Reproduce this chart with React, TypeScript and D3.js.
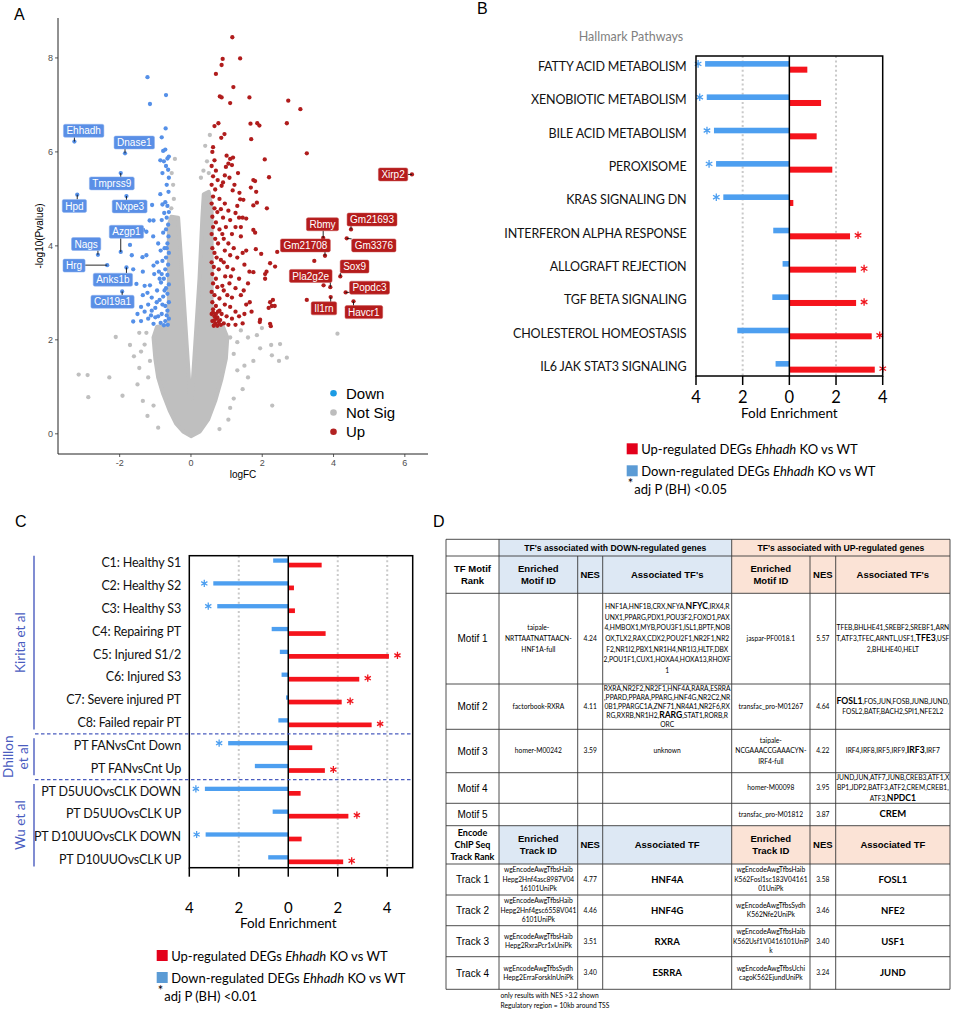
import React from 'react';
import * as d3 from 'd3';

const FA = "'Liberation Sans', Arial, Helvetica, sans-serif";
const FL = "Lato, 'Open Sans', sans-serif";

// ================= Panel A data =================
const volcanoXTicks = [-2, 0, 2, 4, 6];
const volcanoYTicks = [0, 2, 4, 6, 8];

const downPoints: [number, number][] = [
  [-1.22, 7.59], [-0.70, 7.21], [-1.15, 7.02], [-0.71, 6.50], [-0.82, 6.31], [-0.78, 6.02], [-0.72, 6.05],
  [-0.86, 5.82], [-0.76, 5.80], [-0.66, 5.86], [-0.62, 5.90], [-0.70, 5.70], [-0.64, 5.62], [-0.62, 5.45],
  [-0.68, 5.30], [-0.63, 5.15], [-0.72, 4.93], [-0.80, 4.88], [-0.66, 4.85], [-0.62, 4.72], [-0.75, 4.70],
  [-0.68, 4.60], [-0.82, 4.55], [-0.64, 4.45], [-0.70, 4.35], [-0.78, 4.28], [-0.63, 4.20], [-0.66, 4.05],
  [-0.74, 3.95], [-0.85, 3.90], [-0.62, 3.85], [-0.70, 3.75], [-0.80, 3.68], [-0.64, 3.60], [-0.72, 3.50],
  [-0.90, 3.45], [-0.66, 3.38], [-0.76, 3.30], [-0.84, 3.22], [-0.62, 3.18], [-0.70, 3.10], [-0.95, 3.05],
  [-0.66, 2.98], [-0.78, 2.92], [-0.88, 2.85], [-0.62, 2.80], [-0.72, 2.72], [-1.00, 2.68], [-0.66, 2.62],
  [-0.82, 2.55], [-0.92, 2.50], [-0.62, 2.45], [-0.72, 2.40], [-0.85, 2.36], [-1.05, 2.34], [-0.65, 2.32],
  [-0.76, 2.31], [-1.09, 4.87], [-1.16, 4.54], [-1.05, 4.54], [-1.34, 4.34], [-1.25, 4.30], [-1.06, 4.20],
  [-1.71, 4.02], [-1.66, 3.80], [-1.36, 3.76], [-1.25, 3.80], [-1.62, 3.50], [-1.35, 3.45], [-1.05, 3.58],
  [-1.03, 3.40], [-1.53, 3.19], [-1.30, 3.15], [-1.15, 3.16], [-1.22, 3.00], [-1.35, 2.95], [-1.10, 2.90],
  [-1.20, 2.75], [-1.40, 2.70], [-1.50, 2.55], [-1.30, 2.60], [-1.10, 2.62], [-1.62, 2.39], [-1.40, 2.40],
  [-1.20, 2.45], [-1.00, 2.48], [-0.95, 3.65], [-0.92, 4.05], [-0.88, 3.30], [-0.96, 2.80], [-1.12, 2.52],
  [-0.86, 5.10], [-0.80, 5.55], [-0.68, 2.52], [-0.80, 2.75], [-0.74, 3.05], [-0.82, 3.40], [-0.68, 3.95],
];

const upPoints: [number, number][] = [
  [1.16, 8.44], [1.38, 7.99], [0.89, 7.98], [0.86, 7.85], [0.70, 7.66], [1.19, 7.38], [0.81, 7.18],
  [1.64, 7.16], [1.10, 7.04], [2.73, 7.09], [3.07, 6.91], [0.86, 7.16], [1.67, 6.60], [1.86, 6.61],
  [1.92, 6.56], [2.69, 6.61], [0.77, 6.61], [0.94, 6.38], [1.69, 6.27], [0.66, 6.55], [0.85, 6.30],
  [3.25, 5.97], [2.07, 5.84], [1.00, 5.92], [1.10, 5.85], [1.18, 5.88], [1.05, 5.75], [0.98, 5.68],
  [1.15, 5.72], [2.19, 5.46], [1.75, 5.40], [1.80, 5.38], [0.95, 5.50], [1.08, 5.45], [0.90, 5.35],
  [0.86, 5.28], [1.17, 5.18], [1.36, 5.13], [1.38, 4.99], [1.47, 4.98], [1.68, 5.24], [1.83, 5.15],
  [1.75, 4.86], [1.85, 4.92], [2.13, 4.80], [1.25, 4.70], [1.35, 4.60], [1.45, 4.60], [1.55, 4.58],
  [1.25, 4.40], [1.40, 4.40], [1.75, 4.34], [1.80, 4.28], [1.82, 3.93], [1.97, 3.83], [2.42, 3.87],
  [2.22, 3.63], [2.36, 3.56], [2.08, 3.40], [2.12, 3.45], [2.08, 3.30], [1.64, 3.45], [1.75, 3.44],
  [3.46, 3.68], [3.25, 2.85], [2.22, 2.80], [2.30, 2.85], [2.27, 2.72], [2.35, 2.72], [2.18, 2.68],
  [1.94, 2.43], [1.93, 2.38], [2.22, 2.34], [2.24, 2.29], [1.70, 2.60], [3.72, 3.16],
  [0.62, 6.10], [0.60, 6.00], [0.66, 5.82], [0.58, 5.70], [0.70, 5.60], [0.62, 5.48], [0.75, 5.40],
  [0.58, 5.30], [0.68, 5.20], [0.62, 5.05], [0.80, 5.00], [0.58, 4.90], [0.66, 4.80], [0.74, 4.72],
  [0.60, 4.62], [0.70, 4.50], [0.62, 4.40], [0.80, 4.35], [0.58, 4.25], [0.68, 4.15], [0.76, 4.05],
  [0.60, 3.95], [0.66, 3.85], [0.72, 3.75], [0.58, 3.65], [0.64, 3.55], [0.78, 3.50], [0.60, 3.40],
  [0.70, 3.30], [0.62, 3.20], [0.74, 3.12], [0.58, 3.02], [0.66, 2.95], [0.80, 2.88], [0.60, 2.80],
  [0.70, 2.72], [0.62, 2.65], [0.76, 2.60], [0.58, 2.55], [0.66, 2.50], [0.72, 2.45], [0.60, 2.40],
  [0.68, 2.35], [0.78, 2.38], [0.64, 2.30], [0.74, 2.30], [0.82, 2.42], [0.86, 2.55], [0.84, 2.32],
  [0.95, 4.90], [1.05, 4.75], [0.90, 4.60], [1.10, 4.55], [0.98, 4.40], [1.15, 4.25], [0.92, 4.15],
  [1.05, 4.05], [1.20, 3.95], [0.95, 3.90], [1.10, 3.80], [1.30, 3.75], [0.92, 3.65], [1.02, 3.55],
  [1.18, 3.50], [1.35, 3.30], [0.96, 3.35], [1.08, 3.20], [1.25, 3.10], [0.92, 3.05], [1.02, 2.95],
  [1.15, 2.90], [1.40, 2.95], [0.95, 2.75], [1.10, 2.70], [1.25, 2.60], [1.00, 2.50], [1.15, 2.45],
  [1.35, 2.50], [1.50, 2.55], [0.92, 2.35], [1.05, 2.32], [1.25, 2.32], [1.45, 2.35], [1.30, 4.85],
  [1.40, 4.20], [1.55, 3.90], [1.50, 3.60], [1.60, 3.20], [1.48, 3.05], [1.65, 2.80], [1.55, 2.75],
  [0.70, 2.55], [0.66, 2.42], [0.74, 2.48], [0.62, 2.58], [0.80, 2.62], [0.88, 3.15], [0.84, 3.70],
  [0.88, 4.25], [0.84, 4.78], [1.22, 5.30], [1.32, 5.55], [1.45, 3.85], [1.12, 3.35],
];

const notSigPoints: [number, number][] = [
  [-3.15, 1.26], [-2.90, 1.25], [-2.29, 1.20], [-2.88, 0.78], [-1.92, 0.81], [-2.11, 2.06], [-1.71, 1.89],
  [-1.60, 1.65], [-1.45, 1.40], [-1.50, 1.05], [-1.35, 0.70], [-1.22, 0.38], [-0.92, 0.13], [-1.30, 1.90],
  [-1.45, 2.15], [-1.25, 2.15], [-1.15, 1.55], [-1.20, 1.20], [-1.05, 0.60], [-1.40, 1.75], [-0.45, 5.85],
  [-0.54, 5.55], [-0.50, 5.30], [-0.48, 5.00], [-0.55, 4.80], [0.53, 6.36], [0.40, 6.13], [0.45, 5.80],
  [0.35, 5.60], [0.50, 5.55], [0.28, 5.45], [1.10, 2.05], [1.30, 1.95], [1.60, 2.05], [1.94, 1.82],
  [2.25, 1.89], [2.50, 1.91], [2.27, 1.67], [2.69, 1.62], [2.47, 1.55], [1.75, 1.55], [1.50, 1.45],
  [1.30, 1.35], [1.60, 1.20], [1.45, 0.95], [1.20, 0.75], [1.10, 0.55], [2.28, 0.60], [4.11, 2.13],
  [1.99, 2.25], [1.40, 2.20], [1.20, 1.70], [1.85, 2.10], [1.05, 0.30], [0.80, 0.10],
];

// outline of the dense, overplotted grey cloud of non-significant genes
const notSigCloud: [number, number][] = [
  [0, -0.05], [-0.22, 0.05], [-0.42, 0.22], [-0.6, 0.5], [-0.78, 0.85], [-0.92, 1.2], [-1.0, 1.6],
  [-1.05, 2.05], [-0.95, 2.28], [-0.62, 2.3], [-0.62, 4.45], [-0.55, 4.62], [-0.36, 4.6], [-0.24, 3.3],
  [-0.12, 1.9], [-0.02, 0.75], [0.02, 0.75], [0.12, 1.9], [0.24, 3.3], [0.32, 4.6], [0.36, 5.1],
  [0.5, 5.15], [0.58, 4.8], [0.58, 2.3], [0.9, 2.28], [1.02, 2.05], [0.98, 1.6], [0.85, 1.15],
  [0.68, 0.7], [0.48, 0.3], [0.25, 0.05],
];

const labeledGenes = [
  { gene: 'Ehhadh', fc: -3.27, p: 6.22, dir: 'down' },
  { gene: 'Dnase1', fc: -1.85, p: 5.97, dir: 'down' },
  { gene: 'Tmprss9', fc: -1.97, p: 5.55, dir: 'down' },
  { gene: 'Hpd', fc: -3.19, p: 5.09, dir: 'down' },
  { gene: 'Nxpe3', fc: -1.81, p: 5.06, dir: 'down' },
  { gene: 'Azgp1', fc: -1.97, p: 3.87, dir: 'down' },
  { gene: 'Nags', fc: -2.61, p: 3.81, dir: 'down' },
  { gene: 'Hrg', fc: -2.35, p: 3.59, dir: 'down' },
  { gene: 'Anks1b', fc: -1.81, p: 3.54, dir: 'down' },
  { gene: 'Col19a1', fc: -1.93, p: 3.03, dir: 'down' },
  { gene: 'Xirp2', fc: 6.2, p: 5.52, dir: 'up' },
  { gene: 'Gm21693', fc: 4.49, p: 4.35, dir: 'up' },
  { gene: 'Gm3376', fc: 4.37, p: 4.16, dir: 'up' },
  { gene: 'Rbmy', fc: 3.71, p: 4.17, dir: 'up' },
  { gene: 'Gm21708', fc: 3.76, p: 3.79, dir: 'up' },
  { gene: 'Sox9', fc: 4.19, p: 3.35, dir: 'up' },
  { gene: 'Pla2g2e', fc: 3.91, p: 3.12, dir: 'up' },
  { gene: 'Popdc3', fc: 4.34, p: 3.01, dir: 'up' },
  { gene: 'Il1rn', fc: 3.92, p: 2.91, dir: 'up' },
  { gene: 'Havcr1', fc: 4.56, p: 2.82, dir: 'up' },
];
// repelled label centres (layout, in data units), same order as labeledGenes
const labelAnchors: [number, number][] = [
  [-3.01, 6.45], [-1.59, 6.2], [-2.22, 5.33], [-3.27, 4.85], [-1.72, 4.84], [-1.81, 4.3], [-2.94, 4.04],
  [-3.28, 3.58], [-2.19, 3.28], [-2.2, 2.81], [5.67, 5.52], [5.08, 4.56], [5.13, 4.01], [3.69, 4.46],
  [3.21, 4.01], [4.59, 3.56], [3.36, 3.36], [5.01, 3.11], [3.73, 2.67], [4.85, 2.59],
];
const volcanoLegend = ['Down', 'Not Sig', 'Up'];

// ================= Panel B data =================
const hallmarkPathways = [
  'FATTY ACID METABOLISM', 'XENOBIOTIC METABOLISM', 'BILE ACID METABOLISM', 'PEROXISOME',
  'KRAS SIGNALING DN', 'INTERFERON ALPHA RESPONSE', 'ALLOGRAFT REJECTION', 'TGF BETA SIGNALING',
  'CHOLESTEROL HOMEOSTASIS', 'IL6 JAK STAT3 SIGNALING',
];
const hallmarkDown = [3.61, 3.54, 3.23, 3.14, 2.83, 0.69, 0.29, 0.73, 2.23, 0.59];
const hallmarkUp = [0.77, 1.36, 1.17, 1.84, 0.17, 2.6, 2.86, 2.86, 3.53, 3.66];
const hallmarkDownSig = [true, true, true, true, true, false, false, false, false, false];
const hallmarkUpSig = [false, false, false, false, false, true, true, true, true, true];
const foldTicks = [-4, -2, 0, 2, 4];

// ================= Panel C data =================
const clusterLabels = [
  'C1: Healthy S1', 'C2: Healthy S2', 'C3: Healthy S3', 'C4: Repairing PT', 'C5: Injured S1/2',
  'C6: Injured S3', 'C7: Severe injured PT', 'C8: Failed repair PT', 'PT FANvsCnt Down', 'PT FANvsCnt Up',
  'PT D5UUOvsCLK DOWN', 'PT D5UUOvsCLK UP', 'PT D10UUOvsCLK DOWN', 'PT D10UUOvsCLK UP',
];
const clusterDown = [0.61, 3.03, 2.87, 0.67, 0.34, 0.27, 0.09, 0.4, 2.43, 1.35, 3.37, 0.63, 3.34, 0.81];
const clusterUp = [1.35, 0.23, 0.27, 1.51, 4.07, 2.87, 2.16, 3.37, 0.97, 1.48, 0.5, 2.43, 0.54, 2.22];
const clusterDownSig = [false, true, true, false, false, false, false, false, true, false, true, false, true, false];
const clusterUpSig = [false, false, false, false, true, true, true, true, false, true, false, true, false, true];
const studyGroups = [
  { lines: ['Kirita et al'], from: 0, to: 7 },
  { lines: ['Dhillon', 'et al'], from: 8, to: 9 },
  { lines: ['Wu et al'], from: 10, to: 13 },
];

// ================= Panel D data =================
const motifRanks = ['Motif 1', 'Motif 2', 'Motif 3', 'Motif 4', 'Motif 5'];
const downMotifIds = [['taipale-', 'NRTTAATNATTAACN-', 'HNF1A-full'], ['factorbook-RXRA'], ['homer-M00242'], [], []];
const downMotifNes = ['4.24', '4.11', '3.59', '', ''];
const downMotifTfs = [
  ['HNF1A,HNF1B,CRX,NFYA,**NFYC**,IRX4,R', 'UNX1,PPARG,PDX1,POU3F2,FOXO1,PAX', '4,HMBOX1,MYB,POU3F1,ISL1,BPTF,NOB',
    'OX,TLX2,RAX,CDX2,POU2F1,NR2F1,NR2', 'F2,NR1I2,PBX1,NR1H4,NR1I3,HLTF,DBX', '2,POU1F1,CUX1,HOXA4,HOXA13,RHOXF', '1'],
  ['RXRA,NR2F2,NR2F1,HNF4A,RARA,ESRRA', ',PPARD,PPARA,PPARG,HNF4G,NR2C2,NR', '0B1,PPARGC1A,ZNF71,NR4A1,NR2F6,RX',
    'RG,RXRB,NR1H2,**RARG**,STAT1,RORB,R', 'ORC'],
  ['unknown'], [], [],
];
const upMotifIds = [['jaspar-PF0018.1'], ['transfac_pro-M01267'], ['taipale-', 'NCGAAACCGAAACYN-', 'IRF4-full'],
  ['homer-M00098'], ['transfac_pro-M01812']];
const upMotifNes = ['5.57', '4.64', '4.22', '3.95', '3.87'];
const upMotifTfs = [
  ['TFEB,BHLHE41,SREBF2,SREBF1,ARN', 'T,ATF3,TFEC,ARNTL,USF1,**TFE3**,USF', '2,BHLHE40,HELT'],
  ['**FOSL1**,FOS,JUN,FOSB,JUNB,JUND,', 'FOSL2,BATF,BACH2,SPI1,NFE2L2'],
  ['IRF4,IRF8,IRF5,IRF9,**IRF3**,IRF7'],
  ['JUND,JUN,ATF7,JUNB,CREB3,ATF1,X', 'BP1,JDP2,BATF3,ATF2,CREM,CREB1,', 'ATF3,**NPDC1**'],
  ['**CREM**'],
];
const trackRanks = ['Track 1', 'Track 2', 'Track 3', 'Track 4'];
const downTrackIds = [
  ['wgEncodeAwgTfbsHaib', 'Hepg2Hnf4asc8987V04', '16101UniPk'],
  ['wgEncodeAwgTfbsHaib', 'Hepg2Hnf4gsc6558V041', '6101UniPk'],
  ['wgEncodeAwgTfbsHaib', 'Hepg2RxraPcr1xUniPk'],
  ['wgEncodeAwgTfbsSydh', 'Hepg2ErraForsklnUniPk'],
];
const downTrackNes = ['4.77', '4.46', '3.51', '3.40'];
const downTrackTfs = ['HNF4A', 'HNF4G', 'RXRA', 'ESRRA'];
const upTrackIds = [
  ['wgEncodeAwgTfbsHaib', 'K562Fosl1sc183V04161', '01UniPk'],
  ['wgEncodeAwgTfbsSydh', 'K562Nfe2UniPk'],
  ['wgEncodeAwgTfbsHaib', 'K562Usf1V0416101UniP', 'k'],
  ['wgEncodeAwgTfbsUchi', 'cagoK562EjundUniPk'],
];
const upTrackNes = ['3.58', '3.46', '3.40', '3.24'];
const upTrackTfs = ['FOSL1', 'NFE2', 'USF1', 'JUND'];
const footnotes = ['only results with NES >3.2 shown', 'Regulatory region = 10kb around TSS'];

// ================= colours =================
const C_DOWN_PT = '#5590e8';
const C_UP_PT = '#b01c1c';
const C_NS = '#bfbfbf';
const C_BAR_RED = '#f5141c';
const C_BAR_BLUE = '#4d9ff0';
const C_LEG_RED = '#e3001b';
const C_LEG_BLUE = '#5b9bd5';
const C_STAR_BLUE = '#4d9ff0';
const C_STAR_RED = '#f0141c';
const C_GROUP = '#4a5cbf';
const C_HDR_BLUE = '#dde8f4';
const C_HDR_PEACH = '#fbe3d6';

let _ctx: CanvasRenderingContext2D | null = null;
function textWidth(s: string, font: string) {
  if (!_ctx) _ctx = document.createElement('canvas').getContext('2d');
  if (!_ctx) return s.length * 5.5;
  _ctx.font = font;
  return _ctx.measureText(s).width;
}

// ================= Panel A =================
function Volcano() {
  const x = d3.scaleLinear().domain([-3.73, 6.65]).range([58, 428]);
  const y = d3.scaleLinear().domain([-0.43, 8.85]).range([454, 18]);
  const cloud = d3.line<[number, number]>().x(d => x(d[0])).y(d => y(d[1])).curve(d3.curveLinearClosed);
  const r = 2.15;
  const legendColors = ['#1c9be4', '#bdbdbd', '#b22222'];
  return (
    <g>
      <text x={14} y={20} fontFamily={FA} fontSize={16}>A</text>
      <path d={cloud(notSigCloud) || ''} fill={C_NS} stroke={C_NS} strokeWidth={4} strokeLinejoin="round" />
      {notSigPoints.map((d, i) => <circle key={'n' + i} cx={x(d[0])} cy={y(d[1])} r={r} fill={C_NS} />)}
      {downPoints.map((d, i) => <circle key={'d' + i} cx={x(d[0])} cy={y(d[1])} r={r} fill={C_DOWN_PT} />)}
      {upPoints.map((d, i) => <circle key={'u' + i} cx={x(d[0])} cy={y(d[1])} r={r} fill={C_UP_PT} />)}
      {labeledGenes.map((g, i) => (
        <circle key={'lp' + i} cx={x(g.fc)} cy={y(g.p)} r={r} fill={g.dir === 'down' ? C_DOWN_PT : C_UP_PT} />
      ))}
      {labeledGenes.map((g, i) => {
        const px = x(g.fc), py = y(g.p);
        const cx = x(labelAnchors[i][0]), cy = y(labelAnchors[i][1]);
        const w = textWidth(g.gene, `10px ${FA}`) + 6;
        const h = 13;
        const bx = cx - w / 2, by = cy - h / 2;
        const nx = Math.max(bx, Math.min(px, bx + w));
        const ny = Math.max(by, Math.min(py, by + h));
        const dist = Math.hypot(nx - px, ny - py);
        const fill = g.dir === 'down' ? '#5a8fe6' : '#b51c1c';
        return (
          <g key={'lb' + i}>
            {dist > 3 && <line x1={px} y1={py} x2={nx} y2={ny} stroke="#111" strokeWidth={0.9} />}
            <rect x={bx} y={by} width={w} height={h} rx={1.6} fill={fill} stroke={g.dir === 'down' ? '#8fb2ef' : '#c85050'} strokeWidth={0.5} />
            <text x={cx} y={cy + 3.6} textAnchor="middle" fontFamily={FA} fontSize={10} fill="#fff">{g.gene}</text>
          </g>
        );
      })}
      {/* axes */}
      <line x1={58} y1={18} x2={58} y2={454} stroke="#222" strokeWidth={1} />
      <line x1={58} y1={454} x2={428} y2={454} stroke="#222" strokeWidth={1} />
      {volcanoYTicks.map(t => (
        <g key={'yt' + t}>
          <line x1={55} x2={58} y1={y(t)} y2={y(t)} stroke="#333" strokeWidth={0.8} />
          <text x={53} y={y(t) + 3.2} textAnchor="end" fontFamily={FA} fontSize={9} fill="#4d4d4d">{t}</text>
        </g>
      ))}
      {volcanoXTicks.map(t => (
        <g key={'xt' + t}>
          <line x1={x(t)} x2={x(t)} y1={454} y2={457} stroke="#333" strokeWidth={0.8} />
          <text x={x(t)} y={465.5} textAnchor="middle" fontFamily={FA} fontSize={9} fill="#4d4d4d">{t}</text>
        </g>
      ))}
      <text x={243} y={478} textAnchor="middle" fontFamily={FA} fontSize={10}>logFC</text>
      <text transform={`translate(43,236) rotate(-90)`} textAnchor="middle" fontFamily={FA} fontSize={10}>-log10(Pvalue)</text>
      {volcanoLegend.map((s, i) => (
        <g key={'lg' + i}>
          <circle cx={333.5} cy={393.3 + i * 19.2} r={3.3} fill={legendColors[i]} />
          <text x={346} y={399 + i * 19.2} fontFamily={FA} fontSize={15}>{s}</text>
        </g>
      ))}
    </g>
  );
}

// ================= generic mirrored bar chart =================
type BarProps = {
  cats: string[]; down: number[]; up: number[]; downSig: boolean[]; upSig: boolean[];
  xDomain: [number, number]; xRange: [number, number]; yRange: [number, number];
  boxTop: number; boxBottom: number; grid: number[]; blueH: number; redH: number;
  labelX: number; labelSize: number; tickLen: number; tickLabelY: number; tickLabelSize: number;
  titleY: number; blueStarGap: number; redStarGap: number; starSize: number;
};
function MirrorBars(p: BarProps) {
  const x = d3.scaleLinear().domain(p.xDomain).range(p.xRange);
  const yb = d3.scaleBand<string>().domain(p.cats).range(p.yRange);
  const star = d3.symbol().type(d3.symbolAsterisk).size(p.starSize)();
  const x0 = x(0);
  return (
    <g>
      {p.grid.map(g => (
        <line key={'g' + g} x1={x(g)} x2={x(g)} y1={p.boxTop} y2={p.boxBottom} stroke="#c9c9c9" strokeWidth={2} strokeDasharray="2 2.6" />
      ))}
      {p.cats.map((c, i) => {
        const cy = (yb(c) || 0) + yb.bandwidth() / 2;
        const bx = x(-p.down[i]);
        const rx = x(p.up[i]);
        return (
          <g key={c}>
            <rect x={bx} y={cy - p.blueH} width={x0 - bx} height={p.blueH} fill={C_BAR_BLUE} />
            <rect x={x0} y={cy} width={rx - x0} height={p.redH} fill={C_BAR_RED} />
            {p.downSig[i] && <path d={star || ''} transform={`translate(${bx - p.blueStarGap},${cy - p.blueH / 2})`} stroke={C_STAR_BLUE} strokeWidth={1.3} fill="none" />}
            {p.upSig[i] && <path d={star || ''} transform={`translate(${rx + p.redStarGap},${cy + p.redH / 2 - 1})`} stroke={C_STAR_RED} strokeWidth={1.3} fill="none" />}
            <text x={p.labelX} y={cy + p.labelSize * 0.36} textAnchor="end" fontFamily={FL} fontSize={p.labelSize} letterSpacing={-0.15} fill="#111">{c}</text>
          </g>
        );
      })}
      <line x1={x0} x2={x0} y1={p.boxTop} y2={p.boxBottom} stroke="#000" strokeWidth={1.5} />
      <rect x={p.xRange[0]} y={p.boxTop} width={p.xRange[1] - p.xRange[0]} height={p.boxBottom - p.boxTop} fill="none" stroke="#000" strokeWidth={1.5} />
      {foldTicks.map(t => (
        <g key={'t' + t}>
          <line x1={x(t)} x2={x(t)} y1={p.boxBottom} y2={p.boxBottom + p.tickLen} stroke="#000" strokeWidth={1.5} />
          <text x={x(t)} y={p.tickLabelY} textAnchor="middle" fontFamily={FL} fontSize={p.tickLabelSize}>{Math.abs(t)}</text>
        </g>
      ))}
      <text x={x0} y={p.titleY} textAnchor="middle" fontFamily={FL} fontSize={13.5}>Fold Enrichment</text>
    </g>
  );
}

function BarLegend({ x, y, adj }: { x: number; y: number; adj: string }) {
  return (
    <g fontFamily={FL} fontSize={13}>
      <rect x={x} y={y} width={11} height={11} fill={C_LEG_RED} />
      <text x={x + 14.5} y={y + 10.6}>Up-regulated DEGs <tspan fontStyle="italic">Ehhadh</tspan> KO vs WT</text>
      <rect x={x} y={y + 22} width={11} height={11} fill={C_LEG_BLUE} />
      <text x={x + 14.5} y={y + 33}>Down-regulated DEGs <tspan fontStyle="italic">Ehhadh</tspan> KO vs WT</text>
      <text x={x + 1} y={y + 44.5} fontSize={13}>*</text>
      <text x={x + 7.5} y={y + 51}>{adj}</text>
    </g>
  );
}

function PanelB() {
  return (
    <g>
      <text x={477} y={14} fontFamily={FA} fontSize={16}>B</text>
      <text x={631} y={41} textAnchor="middle" fontFamily={FL} fontSize={12.5} fill="#7f7f7f">Hallmark Pathways</text>
      <MirrorBars cats={hallmarkPathways} down={hallmarkDown} up={hallmarkUp} downSig={hallmarkDownSig} upSig={hallmarkUpSig}
        xDomain={[-4, 4]} xRange={[696, 882.7]} yRange={[50, 383.3]} boxTop={56} boxBottom={376} grid={[-2, 2]}
        blueH={5.6} redH={6} labelX={686.5} labelSize={12.5} tickLen={9} tickLabelY={402.7} tickLabelSize={16.5}
        titleY={418.3} blueStarGap={7} redStarGap={8} starSize={40} />
      <BarLegend x={626.7} y={443.3} adj="adj P (BH) <0.05" />
    </g>
  );
}

function PanelC() {
  const yb = d3.scaleBand<string>().domain(clusterLabels).range([551.3, 870.9]);
  const cy = (i: number) => (yb(clusterLabels[i]) || 0) + yb.bandwidth() / 2;
  const seps = [0.5 * (cy(7) + cy(8)), 0.5 * (cy(9) + cy(10))];
  return (
    <g>
      <text x={15} y={527} fontFamily={FA} fontSize={16}>C</text>
      <MirrorBars cats={clusterLabels} down={clusterDown} up={clusterUp} downSig={clusterDownSig} upSig={clusterUpSig}
        xDomain={[-4, 5.03]} xRange={[189.3, 412.7]} yRange={[551.3, 870.9]} boxTop={555.7} boxBottom={867.7} grid={[-2, 2, 4]}
        blueH={4.3} redH={4.7} labelX={181} labelSize={12.5} tickLen={9} tickLabelY={912.7} tickLabelSize={15}
        titleY={928.3} blueStarGap={9} redStarGap={8.5} starSize={36} />
      {seps.map((s, i) => (
        <line key={'sep' + i} x1={35} x2={412.7} y1={s} y2={s} stroke={C_GROUP} strokeWidth={1.2} strokeDasharray="3.5 2.5" />
      ))}
      {studyGroups.map((g, i) => {
        const y1 = cy(g.from) - 7, y2 = cy(g.to) + 7;
        const mid = (y1 + y2) / 2;
        return (
          <g key={'grp' + i}>
            <line x1={34} x2={34} y1={y1} y2={y2} stroke={C_GROUP} strokeWidth={1.4} />
            {g.lines.map((l, j) => (
              <text key={j} transform={`translate(${g.lines.length === 1 ? 25 : 12.8 + j * 15.5},${mid}) rotate(-90)`}
                textAnchor="middle" fontFamily={FL} fontSize={13.5} fill={C_GROUP}>{l}</text>
            ))}
          </g>
        );
      })}
      <BarLegend x={156.7} y={950} adj="adj P (BH) <0.01" />
    </g>
  );
}

// ================= Panel D =================
function RichLine({ s, x, y, size, boldSize }: { s: string; x: number; y: number; size: number; boldSize: number }) {
  const parts = s.split('**');
  return (
    <text x={x} y={y} textAnchor="middle" fontFamily={FL} fontSize={size}>
      {parts.map((p, i) => i % 2 === 1
        ? <tspan key={i} fontWeight="bold" fontSize={boldSize}>{p}</tspan>
        : <tspan key={i}>{p}</tspan>)}
    </text>
  );
}

function Lines({ lines, cx, cy, lh, size, boldSize = 8.6, family = FL, weight = 'normal' as any }:
  { lines: string[]; cx: number; cy: number; lh: number; size: number; boldSize?: number; family?: string; weight?: any }) {
  const n = lines.length;
  return (
    <g>
      {lines.map((l, i) => {
        const yy = cy + (i - (n - 1) / 2) * lh + size * 0.35;
        if (l.includes('**')) return <RichLine key={i} s={l} x={cx} y={yy} size={size} boldSize={boldSize} />;
        return <text key={i} x={cx} y={yy} textAnchor="middle" fontFamily={family} fontSize={size} fontWeight={weight}>{l}</text>;
      })}
    </g>
  );
}

function PanelD() {
  const tX = [446, 499, 577.7, 602.7, 731.7, 810, 835.7, 950];
  const tY = [539.3, 556, 593.3, 684, 729.3, 772.7, 803.3, 825.7, 864, 895, 925.7, 956.7, 989.3];
  const colC = (c: number) => (tX[c] + tX[c + 1]) / 2;
  const rowC = (r: number) => (tY[r] + tY[r + 1]) / 2;
  const small = 6.7;
  const lhFor = (r: number, n: number) => (n >= 5 && tY[r + 1] - tY[r] < 60 ? 9.2 : 10.6);
  const hdrRows = [0, 1, 7];
  const stroke = '#3a3a3a';
  return (
    <g>
      <text x={433} y={527} fontFamily={FA} fontSize={16}>D</text>
      {hdrRows.map(r => (
        <g key={'bg' + r}>
          <rect x={tX[1]} y={tY[r]} width={tX[4] - tX[1]} height={tY[r + 1] - tY[r]} fill={C_HDR_BLUE} />
          <rect x={tX[4]} y={tY[r]} width={tX[7] - tX[4]} height={tY[r + 1] - tY[r]} fill={C_HDR_PEACH} />
        </g>
      ))}
      {tY.map((yy, i) => <line key={'h' + i} x1={tX[0]} x2={tX[7]} y1={yy} y2={yy} stroke={stroke} strokeWidth={0.9} />)}
      {[0, 7].map(c => <line key={'vo' + c} x1={tX[c]} x2={tX[c]} y1={tY[0]} y2={tY[12]} stroke={stroke} strokeWidth={0.9} />)}
      {[1, 4].map(c => <line key={'vm' + c} x1={tX[c]} x2={tX[c]} y1={tY[0]} y2={tY[12]} stroke={stroke} strokeWidth={0.9} />)}
      {[2, 3, 5, 6].map(c => <line key={'vi' + c} x1={tX[c]} x2={tX[c]} y1={tY[1]} y2={tY[12]} stroke={stroke} strokeWidth={0.9} />)}

      {/* header row 1 */}
      <text x={(tX[1] + tX[4]) / 2} y={rowC(0) + 3} textAnchor="middle" fontFamily={FA} fontWeight="bold" fontSize={8.6}>TF's associated with DOWN-regulated genes</text>
      <text x={(tX[4] + tX[7]) / 2} y={rowC(0) + 3} textAnchor="middle" fontFamily={FA} fontWeight="bold" fontSize={8.6}>TF's associated with UP-regulated genes</text>
      {/* header row 2 */}
      {[['TF Motif', 'Rank'], ['Enriched', 'Motif ID'], ['NES'], ['Associated TF\'s'], ['Enriched', 'Motif ID'], ['NES'], ['Associated TF\'s']].map((ls, c) => (
        <Lines key={'h2' + c} lines={ls} cx={colC(c)} cy={rowC(1)} lh={11.5} size={9.5} family={FA} weight="bold" />
      ))}
      {/* motif rows */}
      {motifRanks.map((m, i) => {
        const r = 2 + i;
        return (
          <g key={m}>
            <Lines lines={[m]} cx={colC(0)} cy={rowC(r)} lh={10.6} size={10} family={FA} />
            <Lines lines={downMotifIds[i]} cx={colC(1)} cy={rowC(r)} lh={10.6} size={small} />
            <Lines lines={downMotifNes[i] ? [downMotifNes[i]] : []} cx={colC(2)} cy={rowC(r)} lh={10.6} size={small} />
            <Lines lines={downMotifTfs[i]} cx={colC(3)} cy={rowC(r)} lh={lhFor(r, downMotifTfs[i].length)} size={small} />
            <Lines lines={upMotifIds[i]} cx={colC(4)} cy={rowC(r)} lh={10.6} size={small} />
            <Lines lines={[upMotifNes[i]]} cx={colC(5)} cy={rowC(r)} lh={10.6} size={small} />
            <Lines lines={upMotifTfs[i]} cx={colC(6)} cy={rowC(r)} lh={lhFor(r, upMotifTfs[i].length)} size={small} boldSize={upMotifTfs[i].length === 1 && upMotifTfs[i][0].startsWith('**') ? 9.5 : 8.6} />
          </g>
        );
      })}
      {/* encode header */}
      <Lines lines={['Encode', 'ChIP Seq', 'Track Rank']} cx={colC(0)} cy={rowC(7)} lh={12.2} size={9} family={FL} weight="bold" />
      {[['Enriched', 'Track ID'], ['NES'], ['Associated TF'], ['Enriched', 'Track ID'], ['NES'], ['Associated TF']].map((ls, c) => (
        <Lines key={'eh' + c} lines={ls} cx={colC(c + 1)} cy={rowC(7)} lh={11.5} size={9.5} family={FA} weight="bold" />
      ))}
      {trackRanks.map((t, i) => {
        const r = 8 + i;
        return (
          <g key={t}>
            <Lines lines={[t]} cx={colC(0)} cy={rowC(r)} lh={10.6} size={10} family={FA} />
            <Lines lines={downTrackIds[i]} cx={colC(1)} cy={rowC(r)} lh={9.6} size={small} />
            <Lines lines={[downTrackNes[i]]} cx={colC(2)} cy={rowC(r)} lh={10.6} size={small} />
            <Lines lines={[downTrackTfs[i]]} cx={colC(3)} cy={rowC(r)} lh={10.6} size={9.5} weight="bold" />
            <Lines lines={upTrackIds[i]} cx={colC(4)} cy={rowC(r)} lh={9.6} size={small} />
            <Lines lines={[upTrackNes[i]]} cx={colC(5)} cy={rowC(r)} lh={10.6} size={small} />
            <Lines lines={[upTrackTfs[i]]} cx={colC(6)} cy={rowC(r)} lh={10.6} size={9.5} weight="bold" />
          </g>
        );
      })}
      {footnotes.map((f, i) => (
        <text key={f} x={500.5} y={997.5 + i * 10.5} fontFamily={FL} fontSize={small}>{f}</text>
      ))}
    </g>
  );
}

export default function App() {
  return (
    <svg width={953} height={1015} viewBox="0 0 953 1015" style={{ position: 'absolute', left: 0, top: 0, background: '#fff' }}>
      <rect x={0} y={0} width={953} height={1015} fill="#fff" />
      <Volcano />
      <PanelB />
      <PanelC />
      <PanelD />
    </svg>
  );
}
